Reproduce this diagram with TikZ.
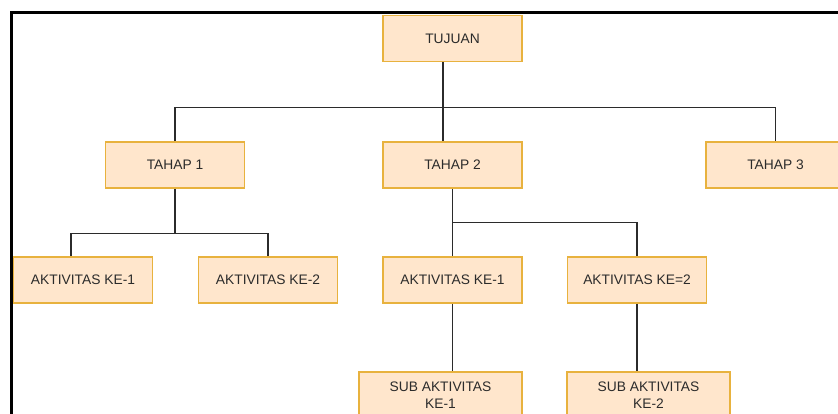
\documentclass[tikz,border=0pt]{standalone}
\usepackage{fontspec}
\setmainfont{Liberation Sans}
\definecolor{boxfill}{HTML}{FFE6CC}
\definecolor{boxline}{HTML}{E8B23E}
\definecolor{ink}{HTML}{2B2B2B}
\begin{document}
\begin{tikzpicture}[x=1pt,y=-1pt,
  box/.style={draw=boxline,fill=boxfill,line width=1.8pt,text=ink,
    minimum width=139pt,minimum height=46pt,inner sep=0pt,align=center,
    font=\fontsize{13.8}{17}\selectfont},
  subbox/.style={box,minimum width=163pt},
  link/.style={draw=ink,line width=1.6pt}]
\useasboundingbox (0,0) rectangle (838,413);
\clip (0,0) rectangle (838,413);
%frame
\draw[line width=3pt] (11.5,420) -- (11.5,12.5) -- (845,12.5);
%boxes
\node[box] (tujuan) at (452.5,38.5) {TUJUAN};
\node[box] (tahap1) at (175,165) {TAHAP 1};
\node[box] (tahap2) at (452.5,165) {TAHAP 2};
\node[box] (tahap3) at (775.5,165) {TAHAP 3};
\node[box] (akt11) at (83,280) {AKTIVITAS KE-1};
\node[box] (akt12) at (268,280) {AKTIVITAS KE-2};
\node[box] (akt21) at (452.5,280) {AKTIVITAS KE-1};
\node[box] (akt22) at (637,280) {AKTIVITAS KE=2};
\node[subbox] (sub1) at (440.5,395) {SUB AKTIVITAS\\KE-1};
\node[subbox] (sub2) at (648.5,395) {SUB AKTIVITAS\\KE-2};
%bus lines
\coordinate (bus1) at (0,107.5);
\coordinate (bus2) at (0,233.5);
\coordinate (bus3) at (0,222.5);
\coordinate (top) at ([xshift=-9.5pt]tujuan.south);
%connectors
\draw[link] (top) -- (top |- bus1);
\draw[link] (tahap1.north) |- (tahap3.north |- bus1) -- (tahap3.north);
\draw[link] ([xshift=-9.5pt]tahap2.north) -- (top |- bus1);
\draw[link] (tahap1.south) -- (tahap1.south |- bus2);
\draw[link] ([xshift=-12pt]akt11.north) |- (akt12.north |- bus2) -- (akt12.north);
\draw[link] (tahap2.south) -- (akt21.north);
\draw[link] (tahap2.south |- bus3) -| (akt22.north);
\draw[link] (akt21.south) -- (akt21.south |- sub1.north);
\draw[link] (akt22.south) -- (akt22.south |- sub2.north);
\end{tikzpicture}
\end{document}
